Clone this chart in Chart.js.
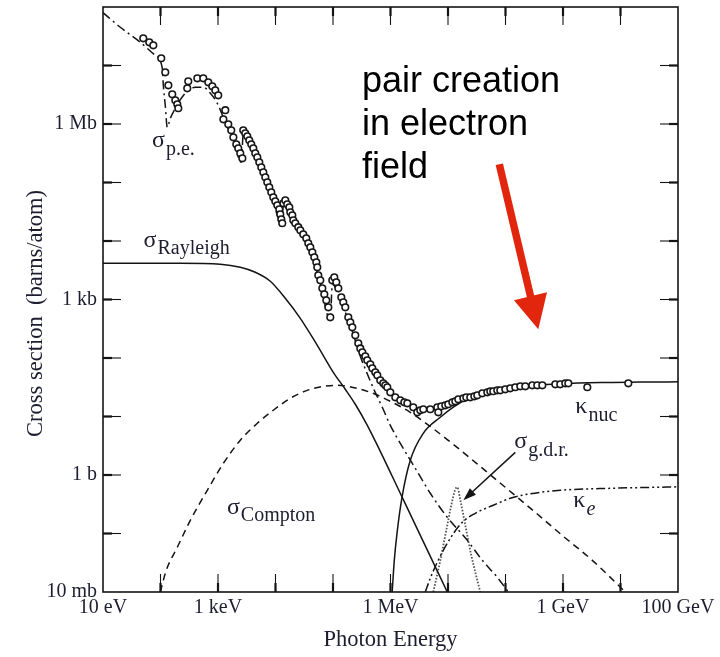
<!DOCTYPE html>
<html>
<head>
<meta charset="utf-8">
<title>Photon cross sections in lead</title>
<script src="https://cdn.jsdelivr.net/npm/chart.js@4.4.1/dist/chart.umd.min.js"></script>
<style>
  html, body { margin: 0; padding: 0; background: #fff; }
  #box { width: 720px; height: 657px; }
</style>
</head>
<body>
<div id="box"><canvas id="chart" width="720" height="657"></canvas></div>
<script>
// Energies in MeV, cross sections in barns per atom.

// Measured total cross section (open circles)
const totalE = [
  5.02e-5, 6.38e-5, 7.50e-5, 1.03e-4, 1.21e-4, 1.37e-4, 1.60e-4, 1.81e-4, 1.96e-4, 2.04e-4,
  2.92e-4, 3.04e-4, 4.37e-4, 5.55e-4, 6.78e-4, 7.96e-4, 8.97e-4, 1.01e-3, 1.34e-3, 1.24e-3,
  1.51e-3, 1.70e-3, 1.85e-3, 2.08e-3, 2.25e-3, 2.44e-3, 2.65e-3, 2.75e-3, 2.98e-3, 3.23e-3,
  3.50e-3, 3.79e-3, 4.11e-3, 4.45e-3, 4.83e-3, 5.23e-3, 5.66e-3, 6.14e-3, 6.65e-3, 7.20e-3,
  7.80e-3, 8.45e-3, 9.16e-3, 9.92e-3, 1.075e-2, 1.165e-2, 1.21e-2, 1.26e-2, 1.31e-2, 1.37e-2,
  1.48e-2, 1.60e-2, 1.74e-2, 1.81e-2, 1.96e-2, 2.04e-2, 2.21e-2, 2.49e-2, 2.70e-2, 3.04e-2,
  3.43e-2, 3.72e-2, 4.03e-2, 4.37e-2, 4.73e-2, 5.13e-2, 5.33e-2, 5.55e-2, 6.01e-2, 6.52e-2,
  7.06e-2, 7.65e-2, 8.29e-2, 8.97e-2, 9.72e-2, 0.1053, 0.1141, 0.1237, 0.1394, 0.151,
  0.1636, 0.1845, 0.200, 0.2166, 0.2443, 0.2754, 0.2985, 0.3233, 0.3645, 0.3949,
  0.4455, 0.4827, 0.544, 0.5895, 0.6646, 0.7497, 0.812, 0.880, 0.992, 1.212,
  1.48, 1.74, 1.96, 2.49, 2.92, 3.30, 3.72, 4.92, 6.51, 6.78,
  7.65, 8.97, 10.1, 11.9, 13.4, 15.1, 18.5, 20.8, 24.4, 28.7,
  32.3, 39.5, 48.3, 54.4, 61.3, 72.0, 81.2, 99.2, 121, 148,
  181, 221, 292, 357, 437, 735, 897, 1096, 1237, 2646, 13670
];
const totalSigma = [
  2.92e7, 2.49e7, 2.21e7, 1.33e7, 7.65e6, 4.59e6, 3.22e6, 2.54e6, 2.17e6, 1.86e6,
  4.08e6, 5.37e6, 6.04e6, 6.04e6, 5.16e6, 4.41e6, 3.77e6, 3.09e6, 1.72e6, 1.20e6,
  9.88e5, 7.80e5, 5.92e5, 4.50e5, 3.84e5, 3.16e5, 2.59e5, 7.80e5, 6.93e5, 6.16e5,
  5.26e5, 4.50e5, 3.84e5, 3.16e5, 2.70e5, 2.21e5, 1.82e5, 1.49e5, 1.23e5, 1.01e5,
  8.28e4, 6.80e4, 5.58e4, 4.77e4, 4.08e4, 3.48e4, 2.86e4, 2.35e4, 2.01e4, 4.41e4,
  4.96e4, 4.24e4, 3.77e4, 3.09e4, 2.75e4, 2.26e4, 2.01e4, 1.72e4, 1.52e4, 1.30e4,
  1.11e4, 9.13e3, 7.80e3, 6.41e3, 5.26e3, 4.32e3, 3.55e3, 2.59e3, 2.13e3, 1.55e3,
  1.23e3, 969, 736, 496, 2.13e3, 2.40e3, 1.97e3, 1.55e3, 1.09e3, 896,
  736, 496, 408, 335, 244, 178, 146, 125, 107, 91.3,
  78.0, 66.7, 57.0, 50.6, 41.6, 36.9, 34.1, 31.6, 25.9, 21.3,
  18.9, 17.5, 16.8, 14.4, 11.8, 12.8, 13.3, 13.3, 14.4, 11.8,
  14.9, 15.5, 16.2, 17.5, 18.2, 19.7, 20.5, 21.3, 21.3, 22.1,
  23.0, 24.9, 25.9, 27.0, 27.0, 28.0, 28.0, 29.2, 30.3, 31.6,
  32.8, 32.8, 34.1, 34.1, 34.1, 35.5, 35.5, 36.9, 36.9, 31.6, 36.9
];

// Atomic photoelectric effect
const peE = [
  1e-5, 2.00e-5, 4.45e-5, 8.12e-5, 1.075e-4, 1.12e-4, 1.21e-4, 1.31e-4, 1.48e-4, 1.81e-4,
  2.30e-4, 2.92e-4, 4.03e-4, 5.55e-4, 7.35e-4, 9.72e-4, 1.34e-3, 1.85e-3, 2.54e-3, 2.75e-3,
  4.45e-3, 8.12e-3, 1.26e-2, 1.37e-2, 1.81e-2, 2.70e-2, 4.03e-2, 6.01e-2, 8.97e-2, 9.72e-2,
  0.145, 0.200, 0.2985, 0.411, 0.523, 0.720, 0.992, 1.48, 2.70, 4.92,
  9.72, 21.7, 39.5, 72.0, 112
];
const peSigma = [
  8.0e7, 4.50e7, 2.49e7, 1.49e7, 8.96e6, 4.59e6, 2.09e6, 8.78e5, 1.25e6, 1.86e6,
  2.75e6, 3.62e6, 4.24e6, 4.24e6, 3.35e6, 2.26e6, 1.07e6, 5.26e5, 2.21e5, 6.67e5,
  2.81e5, 7.07e4, 2.09e4, 3.92e4, 2.86e4, 1.41e4, 6.93e3, 1.89e3, 441, 1.82e3,
  796, 362, 107, 48.7, 28.0, 14.4, 7.07, 3.48, 1.30, 0.487,
  0.189, 0.0765, 0.0348, 0.0178, 0.01
];

// Rayleigh (coherent) scattering
const rayE = [1e-5, 2.21e-4, 1.10e-3, 2.44e-3, 4.45e-3, 8.12e-3, 1.48e-2, 2.70e-2, 5.33e-2,
  0.1012, 0.1636, 0.2443, 0.3949, 0.6646, 1.48, 3.30, 9.72];
const raySigma = [4160, 4160, 4000, 3550, 2920, 2050, 1050, 477, 165,
  57.0, 29.2, 16.2, 7.07, 2.54, 0.487, 0.0931, 0.01];

// Compton (incoherent) scattering
const comptonE = [9.92e-5, 1.26e-4, 1.96e-4, 3.30e-4, 6.51e-4, 1.24e-3, 2.44e-3, 4.83e-3, 9.16e-3,
  1.81e-2, 3.57e-2, 6.78e-2, 0.1188, 0.2646, 0.544, 0.992, 2.21, 4.37, 10.1, 29.8, 99.2,
  330, 1012, 3233, 12120];
const comptonSigma = [0.01, 0.0235, 0.0581, 0.168, 0.548, 1.585, 3.92, 7.65, 12.8,
  20.5, 28.0, 32.8, 34.1, 30.3, 24.0, 18.2, 11.8, 7.36, 3.92, 1.648, 0.616,
  0.230, 0.0896, 0.0348, 0.01];

// Pair production, nuclear field
const nucE = [1.07, 1.164, 1.297, 1.585, 2.21, 3.72, 7.35, 12.4, 24.4, 54.4, 121, 330, 897,
  4454, 22100, 1e5];
const nucSigma = [0.01, 0.0348, 0.1008, 0.416, 1.784, 5.16, 9.69, 14.4, 21.3, 27.0, 30.3, 34.1,
  36.2, 38.0, 38.7, 39.2];

// Pair production, electron field
const elecE = [4.03, 4.92, 6.51, 9.72, 16.4, 29.8, 61.3, 121, 239, 897, 6645, 1e5];
const elecSigma = [0.01, 0.01715, 0.0322, 0.068, 0.1437, 0.2215, 0.3035, 0.40, 0.468, 0.548,
  0.592, 0.628];

// Photonuclear giant dipole resonance
const gdrE = [5.55, 7.35, 9.34, 11.4, 13.4, 14.5, 16.4, 20.0, 25.4, 36.4];
const gdrSigma = [0.01, 0.0348, 0.1134, 0.3035, 0.570, 0.616, 0.370, 0.138, 0.0424, 0.01];

// Axis ticks: one per decade, text at selected decades
const xTickValues = [1e-5, 1e-4, 1e-3, 1e-2, 1e-1, 1, 1e1, 1e2, 1e3, 1e4, 1e5];
const xLabelValues = [1e-5, 1e-3, 1, 1e3, 1e5];
const xLabelTexts = ['10 eV', '1 keV', '1 MeV', '1 GeV', '100 GeV'];
const yTickValues = [1e-2, 1e-1, 1, 1e1, 1e2, 1e3, 1e4, 1e5, 1e6, 1e7, 1e8];
const yLabelValues = [1e-2, 1, 1e3, 1e6];
const yLabelTexts = ['10 mb', '1 b', '1 kb', '1 Mb'];

// Curve names, anchored in data units (baseline of the symbol)
const curveLabels = [
  { sym: 'σ', sub: 'p.e.', e: 7.12e-5, s: 4.04e5 },
  { sym: 'σ', sub: 'Rayleigh', e: 5.08e-5, s: 7.90e3 },
  { sym: 'σ', sub: 'Compton', e: 1.43e-3, s: 0.219 },
  { sym: 'κ', sub: 'nuc', e: 1637, s: 11.3 },
  { sym: 'σ', sub: 'g.d.r.', e: 142, s: 2.86 },
  { sym: 'κ', sub: 'e', e: 1511, s: 0.280, italic: true }
];
const noteLines = ['pair creation', 'in electron', 'field'];
const noteAnchor = { e: 0.319, s: 3.52e6 };
const noteArrow = { from: { e: 78, s: 2.05e5 }, to: { e: 372, s: 309 } };
const gdrArrow = { from: { e: 148, s: 2.44 }, to: { e: 18.5, s: 0.370 } };

const SERIF = '"Liberation Serif", "Times New Roman", serif';
const TEXT = '#1d1d30';
const INK = '#141414';

const pairs = (xs, ys) => xs.map((v, i) => ({ x: v, y: ys[i] }));
const labelFor = (values, texts) => (v) => {
  const k = values.findIndex(t => Math.abs(Math.log10(t) - Math.log10(v)) < 1e-6);
  return k >= 0 ? texts[k] : null;
};
const xLabel = labelFor(xLabelValues, xLabelTexts);
const yLabel = labelFor(yLabelValues, yLabelTexts);

function curve(data, dash, extra) {
  return Object.assign({
    data, showLine: true, pointRadius: 0, pointHoverRadius: 0,
    borderColor: INK, borderWidth: 1.5, borderDash: dash, fill: false,
    cubicInterpolationMode: 'monotone', order: 2
  }, extra || {});
}

function drawArrow(ctx, x0, y0, x1, y1, width, headLen, headHalf, color) {
  const ang = Math.atan2(y1 - y0, x1 - x0);
  const c = Math.cos(ang), s = Math.sin(ang);
  const bx = x1 - headLen * c, by = y1 - headLen * s;
  ctx.strokeStyle = color; ctx.fillStyle = color;
  ctx.lineWidth = width; ctx.lineCap = 'butt'; ctx.setLineDash([]);
  ctx.beginPath(); ctx.moveTo(x0, y0); ctx.lineTo(bx + 2 * c, by + 2 * s); ctx.stroke();
  ctx.beginPath();
  ctx.moveTo(x1, y1);
  ctx.lineTo(bx - headHalf * s, by + headHalf * c);
  ctx.lineTo(bx + headHalf * s, by - headHalf * c);
  ctx.closePath(); ctx.fill();
}

const decorations = {
  id: 'decorations',
  afterDatasetsDraw(chart) {
    const { ctx, chartArea: a, scales } = chart;
    const xs = scales.x, ys = scales.y;
    const px = e => xs.getPixelForValue(e), py = s => ys.getPixelForValue(s);
    ctx.save();
    ctx.setLineDash([]);
    ctx.strokeStyle = INK;
    const seg = (x0, y0, x1, y1, w) => {
      ctx.lineWidth = w; ctx.beginPath(); ctx.moveTo(x0, y0); ctx.lineTo(x1, y1); ctx.stroke();
    };
    // inward tick marks on all four sides
    xTickValues.forEach(v => {
      const p = px(v);
      if (p <= a.left + 1 || p >= a.right - 1) return;
      seg(p, a.bottom, p, a.bottom - 18, 1.1); seg(p, a.bottom, p, a.bottom - 9, 2.2);
      seg(p, a.top, p, a.top + 18, 1.1); seg(p, a.top, p, a.top + 9, 2.2);
    });
    yTickValues.forEach(v => {
      const p = py(v);
      if (p <= a.top + 1 || p >= a.bottom - 1) return;
      seg(a.left, p, a.left + 18, p, 1.1); seg(a.left, p, a.left + 9, p, 2.2);
      seg(a.right, p, a.right - 18, p, 1.1); seg(a.right, p, a.right - 9, p, 2.2);
    });
    // frame
    ctx.lineWidth = 1.6;
    ctx.strokeRect(a.left, a.top, a.right - a.left, a.bottom - a.top);

    // curve names with subscripts
    ctx.fillStyle = TEXT;
    ctx.textBaseline = 'alphabetic';
    ctx.textAlign = 'left';
    curveLabels.forEach(l => {
      const x = px(l.e), y = py(l.s);
      ctx.font = '24px ' + SERIF;
      ctx.fillText(l.sym, x, y);
      const w = ctx.measureText(l.sym).width;
      ctx.font = (l.italic ? 'italic ' : '') + '20px ' + SERIF;
      ctx.fillText(l.sub, x + w + 1, y + 7.5);
    });

    // vertical axis title
    ctx.save();
    ctx.translate(36, (a.top + a.bottom) / 2 + 14);
    ctx.rotate(-Math.PI / 2);
    ctx.textAlign = 'center'; ctx.textBaseline = 'middle';
    ctx.font = '22.5px ' + SERIF;
    ctx.fillStyle = TEXT;
    ctx.fillText('Cross section  (barns/atom)', 0, 0);
    ctx.restore();

    // arrow to the giant dipole resonance
    drawArrow(ctx, px(gdrArrow.from.e), py(gdrArrow.from.s), px(gdrArrow.to.e), py(gdrArrow.to.s),
      1.5, 13, 4.5, INK);

    // note on pair creation in the electron field
    ctx.fillStyle = '#000';
    ctx.font = '36px "Liberation Sans", Arial, sans-serif';
    ctx.textAlign = 'left'; ctx.textBaseline = 'alphabetic';
    const nx = px(noteAnchor.e), ny = py(noteAnchor.s);
    noteLines.forEach((t, i) => ctx.fillText(t, nx, ny + i * 43));
    drawArrow(ctx, px(noteArrow.from.e), py(noteArrow.from.s), px(noteArrow.to.e), py(noteArrow.to.s),
      7.5, 34, 17, '#e2260e');
    ctx.restore();
  }
};

Chart.defaults.font.family = SERIF;
Chart.defaults.color = TEXT;

new Chart(document.getElementById('chart'), {
  type: 'scatter',
  data: {
    datasets: [
      {
        label: 'total',
        data: pairs(totalE, totalSigma),
        showLine: false,
        pointRadius: 3.3, pointHoverRadius: 3.3,
        pointBorderWidth: 1.6,
        pointBorderColor: '#161616',
        pointBackgroundColor: '#fff',
        order: 0
      },
      curve(pairs(peE, peSigma), [9, 4, 2, 4]),
      curve(pairs(rayE, raySigma), []),
      curve(pairs(comptonE, comptonSigma), [7, 5]),
      curve(pairs(nucE, nucSigma), []),
      curve(pairs(elecE, elecSigma), [9, 3, 2, 3, 2, 3]),
      curve(pairs(gdrE, gdrSigma), [1.6, 1.6], { borderColor: '#555', borderWidth: 1.8 })
    ]
  },
  options: {
    responsive: false,
    animation: false,
    devicePixelRatio: 1,
    events: [],
    layout: { padding: { top: 7, right: 42, bottom: 0, left: 0 } },
    plugins: { legend: { display: false }, tooltip: { enabled: false } },
    scales: {
      x: {
        type: 'logarithmic',
        position: 'bottom',
        min: 1e-5, max: 1e5,
        afterBuildTicks: s => { s.ticks = xTickValues.map(v => ({ value: v })); },
        afterFit: s => { s.height = 65; s.paddingLeft = 0; s.paddingRight = 0; },
        grid: { display: false, drawTicks: false },
        border: { display: false },
        ticks: {
          autoSkip: false, maxRotation: 0, minRotation: 0, padding: 4,
          font: { size: 20, family: SERIF }, color: TEXT,
          callback: v => xLabel(v)
        },
        title: {
          display: true, text: 'Photon Energy', color: TEXT,
          font: { size: 22.5, family: SERIF }, padding: { top: 0, bottom: 3 }
        }
      },
      y: {
        type: 'logarithmic',
        position: 'left',
        min: 1e-2, max: 1e8,
        afterBuildTicks: s => { s.ticks = yTickValues.map(v => ({ value: v })); },
        afterFit: s => { s.width = 103; s.paddingTop = 0; s.paddingBottom = 0; },
        grid: { display: false, drawTicks: false },
        border: { display: false },
        ticks: {
          autoSkip: false, padding: 6,
          font: { size: 20, family: SERIF }, color: TEXT,
          callback: v => yLabel(v)
        }
      }
    }
  },
  plugins: [decorations]
});
</script>
</body>
</html>
